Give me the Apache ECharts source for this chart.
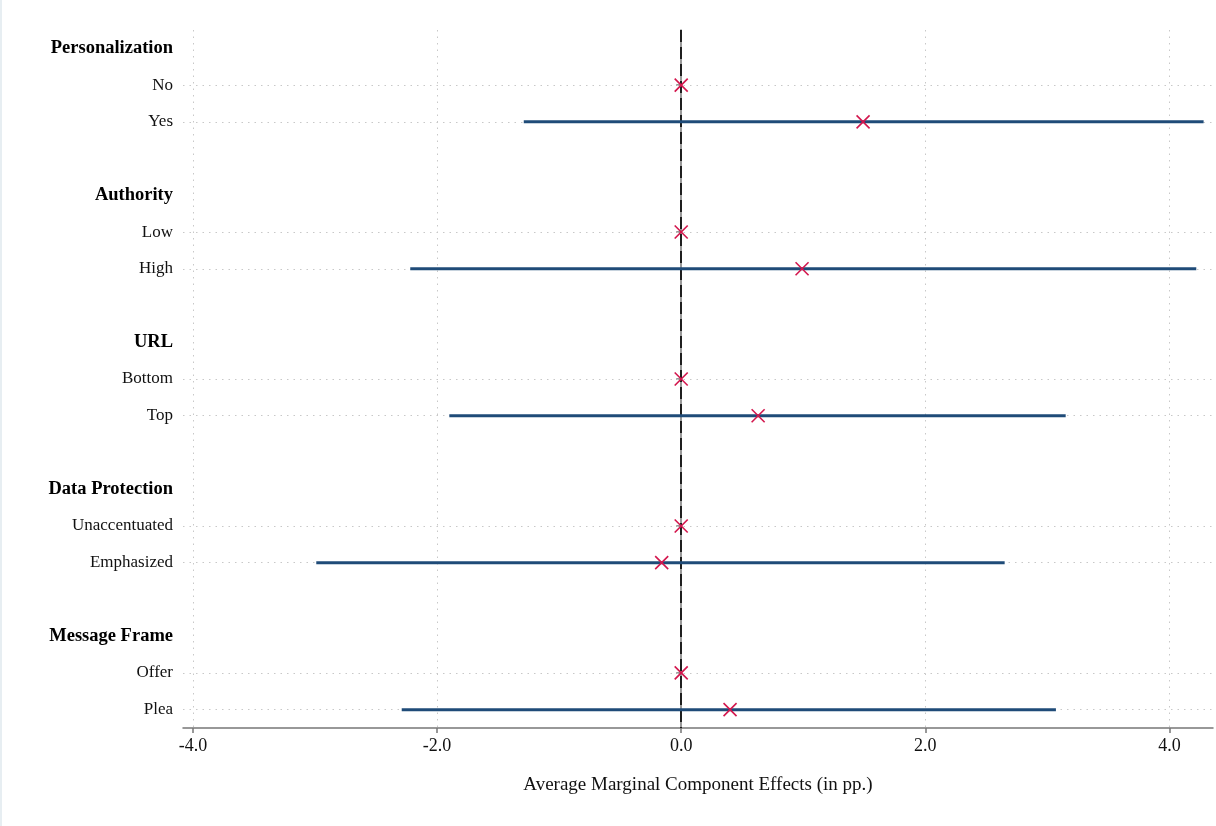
<!DOCTYPE html>
<html>
<head>
<meta charset="utf-8">
<script src="https://cdn.jsdelivr.net/npm/echarts@6/dist/echarts.min.js"></script>
<style>
html,body{margin:0;padding:0;background:#fff;}
body{border-left:2px solid #e7eef2;box-sizing:border-box;width:1216px;height:826px;}
#chart{width:1214px;height:826px;}
</style>
</head>
<body>
<div id="chart"></div>
<script>
// ---- data ----
const groups = ['Personalization', 'Authority', 'URL', 'Data Protection', 'Message Frame'];
const levels = [['No', 'Yes'], ['Low', 'High'], ['Bottom', 'Top'], ['Unaccentuated', 'Emphasized'], ['Offer', 'Plea']];
const estimates = [[0, 1.49], [0, 0.99], [0, 0.63], [0, -0.16], [0, 0.40]];
const lowerCI = [[null, -1.29], [null, -2.22], [null, -1.90], [null, -2.99], [null, -2.29]];
const upperCI = [[null, 4.28], [null, 4.22], [null, 3.15], [null, 2.65], [null, 3.07]];
const xTicks = [-4, -2, 0, 2, 4];
const xTitle = 'Average Marginal Component Effects (in pp.)';

// ---- build category rows ----
const categories = [];
const isHeader = [];
const isLevel = [];
const pointData = [];
const ciData = [];
groups.forEach((g, gi) => {
  categories.push(g); isHeader.push(true); isLevel.push(false);
  levels[gi].forEach((lv, li) => {
    const idx = categories.length;
    categories.push(lv); isHeader.push(false); isLevel.push(true);
    pointData.push([estimates[gi][li], idx]);
    if (lowerCI[gi][li] !== null) ciData.push([lowerCI[gi][li], upperCI[gi][li], idx]);
  });
  if (gi < groups.length - 1) {
    categories.push(' '.repeat(gi + 1)); isHeader.push(false); isLevel.push(false);
  }
});

const hGrid = [];
categories.forEach((c, i) => { if (isLevel[i]) hGrid.push({ yAxis: i }); });
const vGrid = xTicks.filter(v => v !== 0).map(v => ({ xAxis: v }));

const FONT = '"Liberation Serif", "Times New Roman", serif';
const chart = echarts.init(document.getElementById('chart'), null, { renderer: 'canvas' });

chart.setOption({
  animation: false,
  backgroundColor: '#fff',
  grid: { left: 181, right: 3, top: 30, bottom: 98, containLabel: false },
  xAxis: {
    type: 'value',
    min: -4.082,
    max: 4.357,
    name: xTitle,
    nameLocation: 'middle',
    nameGap: 48,
    nameTextStyle: { fontFamily: FONT, fontSize: 19, color: '#111' },
    axisLine: { show: true, lineStyle: { color: '#777', width: 1.5 } },
    axisTick: { show: true, customValues: xTicks, length: 5, lineStyle: { color: '#777', width: 1.5 } },
    axisLabel: { customValues: xTicks, formatter: v => v.toFixed(1), fontFamily: FONT, fontSize: 18, color: '#111', margin: 9 },
    splitLine: { show: false }
  },
  yAxis: {
    type: 'category',
    inverse: true,
    data: categories,
    axisLine: { show: true, lineStyle: { color: '#777', width: 1.5 } },
    axisTick: {
      show: true, alignWithLabel: true, length: 5,
      interval: (i) => isLevel[i],
      lineStyle: { color: '#777', width: 1.5 }
    },
    axisLabel: {
      interval: 0,
      margin: 10,
      fontFamily: FONT, fontSize: 17, color: '#111',
      formatter: (v, i) => isHeader[i] ? '{h|' + v + '}' : v,
      rich: { h: { fontFamily: FONT, fontSize: 18.5, fontWeight: 'bold', color: '#000' } }
    },
    splitLine: { show: false }
  },
  series: [
    {
      type: 'line', data: [], silent: true, z: 1,
      markLine: {
        z: 1,
        silent: true, symbol: ['none', 'none'], label: { show: false },
        lineStyle: { type: [1.5, 5], color: '#c8c8c8', width: 1 },
        data: hGrid.concat(vGrid), animation: false
      }
    },
    {
      type: 'line', data: [], silent: true, z: 2,
      markLine: {
        z: 2,
        silent: true, symbol: ['none', 'none'], label: { show: false },
        lineStyle: { type: [12, 5], color: '#000', width: 1.6 },
        data: [{ xAxis: 0 }], animation: false
      }
    },
    {
      type: 'custom', z: 4,
      data: ciData,
      encode: { x: [0, 1], y: 2 },
      renderItem: (params, api) => {
        const a = api.coord([api.value(0), api.value(2)]);
        const b = api.coord([api.value(1), api.value(2)]);
        return { type: 'line', shape: { x1: a[0], y1: a[1], x2: b[0], y2: b[1] },
          style: { stroke: '#1f4b78', lineWidth: 3 } };
      }
    },
    {
      type: 'custom', z: 5,
      data: pointData,
      encode: { x: 0, y: 1 },
      renderItem: (params, api) => {
        const p = api.coord([api.value(0), api.value(1)]);
        const s = 6.5;
        const st = { stroke: '#d3164d', lineWidth: 1.6 };
        return { type: 'group', children: [
          { type: 'line', shape: { x1: p[0] - s, y1: p[1] - s, x2: p[0] + s, y2: p[1] + s }, style: st },
          { type: 'line', shape: { x1: p[0] - s, y1: p[1] + s, x2: p[0] + s, y2: p[1] - s }, style: st }
        ] };
      }
    }
  ]
});
</script>
</body>
</html>
